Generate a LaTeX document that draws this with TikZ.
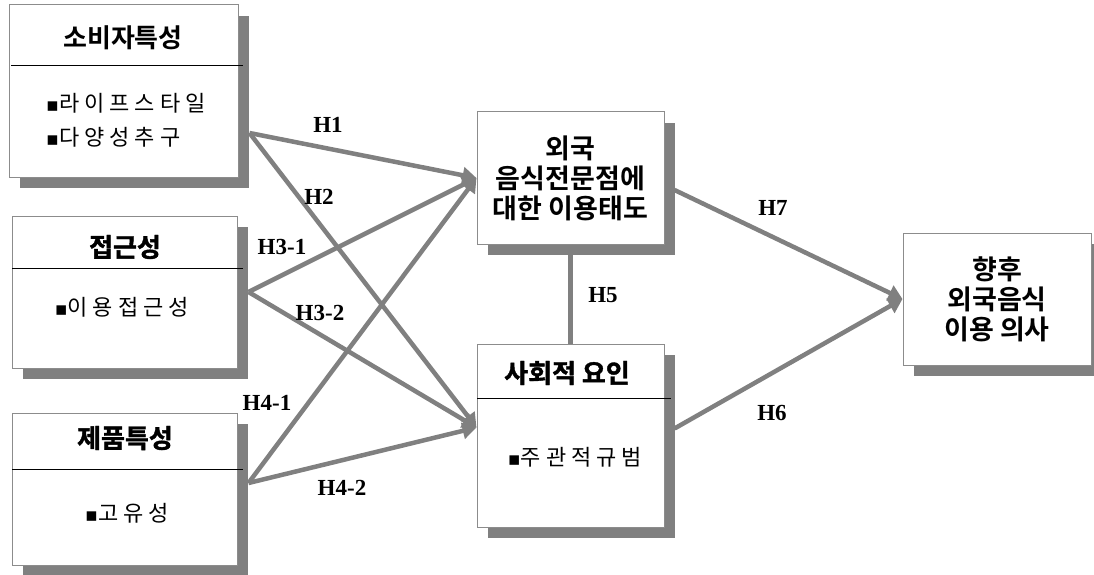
\documentclass[tikz,border=0pt]{standalone}
\usepackage{fontspec}
\setmainfont{Liberation Serif}
\newfontfamily\kr[BoldFont={Noto Sans CJK KR Bold}]{Noto Sans CJK KR}
\newfontfamily\krsp[LetterSpace=23]{Noto Sans CJK KR}
\newfontfamily\krblob[FakeBold=1.5]{Noto Sans CJK KR Bold}
\newfontfamily\dvfont{DejaVu Sans}
\newcommand\mybul{{\dvfont\fontsize{19}{19}\selectfont ▪}}
\usetikzlibrary{shadows,calc,arrows.meta}
\definecolor{linegray}{RGB}{128,128,128}
\definecolor{boxline}{RGB}{140,140,140}
\tikzset{
  box/.style={draw=boxline, line width=1pt, fill=white, inner sep=0pt,
    drop shadow={shadow xshift=11pt, shadow yshift=-11pt, fill=linegray, opacity=1}},
  ttl/.style={font=\kr\bfseries\fontsize{26}{30}\selectfont, inner sep=0pt},
  ttlblob/.style={font=\krblob\fontsize{26}{30}\selectfont, inner sep=0pt},
  btxt/.style={font=\kr\bfseries\fontsize{27}{30}\selectfont, align=center},
  item/.style={font=\krsp\fontsize{22}{24}\selectfont, inner sep=0pt},
  divider/.style={draw=black, line width=1pt},
  ar/.style={draw=linegray, line width=4.5pt, -{Triangle[length=14pt,width=16pt]}},
  ln/.style={draw=linegray, line width=4.5pt},
  lab/.style={font=\bfseries\fontsize{23}{23}\selectfont, inner sep=0pt}
}
\begin{document}
\begin{tikzpicture}[x=1pt,y=-1pt]
\useasboundingbox (0,0) rectangle (1094,575);
% boxes
\node[box, minimum width=229pt, minimum height=172pt] (A) at (123.5,91) {};
\node[box, minimum width=225pt, minimum height=152pt] (B) at (124.5,292) {};
\node[box, minimum width=225pt, minimum height=152pt] (C) at (124.5,489) {};
\node[box, btxt, minimum width=187pt, minimum height=132pt] (D) at (570.5,178) {외국\\음식전문점에\\대한 이용태도};
\node[box, minimum width=187pt, minimum height=183pt] (E) at (570.5,435.5) {};
\node[box, btxt, minimum width=188pt, minimum height=132pt] (F) at (997,299) {향후\\외국음식\\이용 의사};
% dividers
\draw[divider] (11,66) -- (243,66);
\draw[divider] (12,268) -- (243,268);
\draw[divider] (12,469) -- (243,469);
\draw[divider] (477,398) -- (671,398);
% titles
\node[ttl] (At) at (123,38) {소비자특성};
\node[ttlblob] (Bt) at (125,247) {접근성};
\node[ttlblob] (Ct) at (125,438) {제품특성};
\node[ttlblob] (Et) at (567,373) {사회적 요인};
% items
\node[item, anchor=west] (A1) at (46,103) {\mybul 라이프스타일};
\node[item, anchor=west] (A2) at (46,137) {\mybul 다양성추구};
\node[item] (B1) at (122,307) {\mybul 이용접근성};
\node[item] (C1) at (127,513) {\mybul 고유성};
\node[item] (E1) at (575,457) {\mybul 주관적규범};
% connector ends
\coordinate (As) at ($(A.east)+(11,42)$);
\coordinate (Bs) at ($(B.east)+(11,0)$);
\coordinate (Cs) at ($(C.east)+(11,-6)$);
\coordinate (Ein) at ($(E.west)+(0,-8)$);
\coordinate (Ds) at ($(D.east)+(10,12)$);
\coordinate (Es) at ($(E.east)+(10,-7)$);
% connectors
\draw[ln] (D.south) -- (E.north);
\draw[ar] (As) -- (D.west);
\draw[ar] (As) -- (Ein);
\draw[ar] (Bs) -- (D.west);
\draw[ar] (Bs) -- (Ein);
\draw[ar] (Cs) -- (D.west);
\draw[ar] (Cs) -- (Ein);
\draw[ar] (Ds) -- (F.west);
\draw[ar] (Es) -- (F.west);
% labels
\node[lab] (h1) at (328,125) {H1};
\node[lab] (h2) at (319,197) {H2};
\node[lab] (h31) at (282,247) {H3-1};
\node[lab] (h32) at (320,313) {H3-2};
\node[lab] (h41) at (267,403) {H4-1};
\node[lab] (h42) at (342,488) {H4-2};
\node[lab] (h5) at (603,295) {H5};
\node[lab] (h7) at (773,208) {H7};
\node[lab] (h6) at (772,413) {H6};
\end{tikzpicture}
\end{document}
